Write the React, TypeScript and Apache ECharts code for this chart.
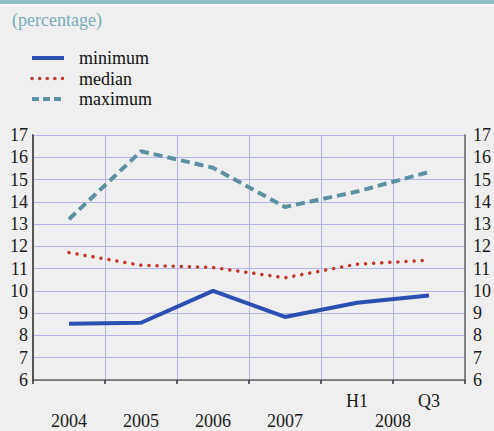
import React, { useEffect, useRef } from "react";
import * as echarts from "echarts";

const categories = ["2004", "2005", "2006", "2007", "H1", "Q3"];
const yearGroups = ["", "", "2008"];
const minimum = [8.52, 8.57, 10.0, 8.83, 9.47, 9.79];
const median = [11.72, 11.15, 11.05, 10.59, 11.2, 11.38];
const maximum = [13.22, 16.27, 15.53, 13.77, 14.46, 15.34];
const seriesNames = ["minimum", "median", "maximum"];
const yMin = 6;
const yMax = 17;

const FONT = "Liberation Serif";
const C_MIN = "#2c4fb2";
const C_MED = "#c0392b";
const C_MAX = "#5d91a1";

export default function App() {
  const ref = useRef<HTMLDivElement>(null);
  useEffect(() => {
    if (!ref.current) return;
    const chart = echarts.init(ref.current, null, { renderer: "svg" });
    const yLabel = { fontFamily: FONT, fontSize: 18, color: "#1a1a1a" };
    const legendStyles = [
      { stroke: C_MIN, lineWidth: 4 },
      { stroke: C_MED, lineWidth: 3.5, lineDash: [0.1, 7.5], lineCap: "round" },
      { stroke: C_MAX, lineWidth: 4, lineDash: [7, 4] },
    ];
    const legendGraphics: any[] = [];
    seriesNames.forEach((n, i) => {
      const y = 58 + i * 20.5;
      legendGraphics.push({
        type: "line",
        shape: { x1: 32, y1: y, x2: 64, y2: y },
        style: { ...legendStyles[i] },
      });
      legendGraphics.push({
        type: "text",
        x: 79,
        y: y,
        style: { text: n, fontFamily: FONT, fontSize: 18, fill: "#111", verticalAlign: "middle" },
      });
    });
    chart.setOption({
      animation: false,
      backgroundColor: "#efefef",
      graphic: [
        { type: "rect", left: 0, top: 0, shape: { width: 494, height: 4 }, style: { fill: "#8fbcc5" } },
        { type: "rect", left: 0, top: 4, shape: { width: 494, height: 2 }, style: { fill: "#ffffff" } },
        {
          type: "text",
          x: 12,
          y: 20,
          style: { text: "(percentage)", fontFamily: FONT, fontSize: 18, fill: "#7aaeb9", verticalAlign: "middle" },
        },
        ...legendGraphics,
      ],
      grid: { left: 33, right: 28, top: 135, bottom: 46, containLabel: false },
      xAxis: [
        {
          type: "category",
          data: categories,
          boundaryGap: true,
          axisLine: { show: true, lineStyle: { color: "#666", width: 1.5 } },
          axisTick: { show: true, length: 4, lineStyle: { color: "#333", width: 1.5 } },
          splitLine: { show: true, lineStyle: { color: "#b2b5ee", width: 1 } },
          axisLabel: {
            margin: 11,
            fontFamily: FONT,
            fontSize: 18,
            color: "#1a1a1a",
            lineHeight: 20,
            formatter: (v: string) => (/^\d{4}$/.test(v) ? "\n" + v : v),
          },
        },
        {
          type: "category",
          position: "bottom",
          data: yearGroups,
          boundaryGap: true,
          axisLine: { show: false },
          axisTick: { show: false },
          splitLine: { show: false },
          axisLabel: {
            margin: 11,
            fontFamily: FONT,
            fontSize: 18,
            color: "#1a1a1a",
            lineHeight: 20,
            formatter: (v: string) => (v ? "\n" + v : ""),
          },
        },
      ],
      yAxis: [
        {
          type: "value",
          min: yMin,
          max: yMax,
          interval: 1,
          position: "left",
          axisLine: { show: true, lineStyle: { color: "#555", width: 2 } },
          axisTick: { show: false },
          splitLine: { show: true, lineStyle: { color: "#b2b5ee", width: 1 } },
          axisLabel: { ...yLabel, margin: 5 },
        },
        {
          type: "value",
          min: yMin,
          max: yMax,
          interval: 1,
          position: "right",
          axisLine: { show: true, lineStyle: { color: "#666", width: 1.5 } },
          axisTick: { show: false },
          splitLine: { show: false },
          axisLabel: { ...yLabel, margin: 8 },
        },
      ],
      series: [
        {
          name: seriesNames[0],
          type: "line",
          data: minimum,
          symbol: "none",
          lineStyle: { color: C_MIN, width: 4 },
          itemStyle: { color: C_MIN },
        },
        {
          name: seriesNames[1],
          type: "line",
          data: median,
          symbol: "none",
          lineStyle: { color: C_MED, width: 3.5, type: [0.1, 8], cap: "round" },
          itemStyle: { color: C_MED },
        },
        {
          name: seriesNames[2],
          type: "line",
          data: maximum,
          symbol: "none",
          lineStyle: { color: C_MAX, width: 4, type: [9, 5] },
          itemStyle: { color: C_MAX },
        },
      ],
    });
    return () => chart.dispose();
  }, []);
  return (
    <div
      ref={ref}
      style={{ position: "fixed", left: 0, top: 0, width: 494, height: 431 }}
    />
  );
}
